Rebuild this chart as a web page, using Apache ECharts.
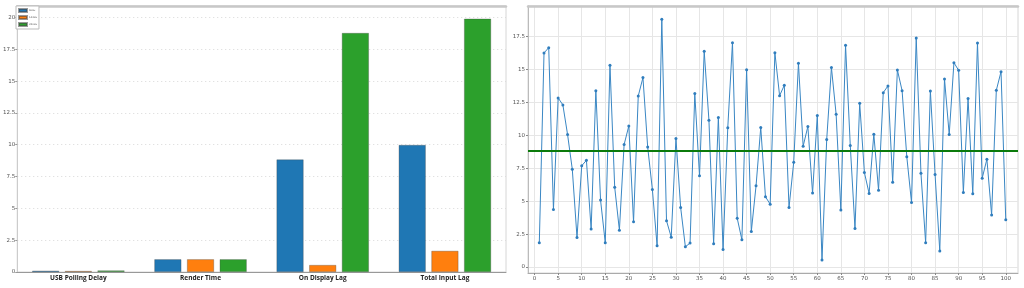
<!DOCTYPE html>
<html>
<head>
<meta charset="utf-8">
<script src="https://cdn.jsdelivr.net/npm/echarts@6/dist/echarts.min.js"></script>
<style>
  html, body { margin: 0; padding: 0; background: #fff; }
  #chart { width: 1024px; height: 288px; }
</style>
</head>
<body>
<div id="chart"></div>
<script>
// left panel: latency components per setup
const categories = ["USB Polling Delay", "Render Time", "On Display Lag", "Total Input Lag"];
const seriesNames = ["60Hz", "144Hz", "240Hz"];
const blueValues = [0.1, 1.0, 8.84, 9.98];
const orangeValues = [0.08, 1.0, 0.55, 1.66];
const greenValues = [0.12, 1.0, 18.78, 19.9];
const barColors = ["#1f77b4", "#ff7f0e", "#2ca02c"];
const leftTicks = [0, 2.5, 5, 7.5, 10, 12.5, 15, 17.5, 20];

// right panel: per-sample lag
const lagValues = [
  1.84, 16.24, 16.64, 4.37, 12.83, 12.3, 10.05, 7.42, 2.25, 7.68,
  8.1, 2.88, 13.38, 5.08, 1.84, 15.3, 6.06, 2.8, 9.29, 10.7,
  3.43, 12.98, 14.37, 9.1, 5.88, 1.62, 18.79, 3.51, 2.27, 9.75,
  4.52, 1.54, 1.82, 13.16, 6.92, 16.36, 11.14, 1.77, 11.34, 1.34,
  10.56, 17.02, 3.71, 2.07, 14.97, 2.7, 6.16, 10.58, 5.33, 4.77,
  16.26, 13.0, 13.79, 4.52, 7.95, 15.45, 9.17, 10.66, 5.61, 11.49,
  0.53, 9.67, 15.13, 11.59, 4.32, 16.82, 9.22, 2.93, 12.42, 7.17,
  5.58, 10.08, 5.83, 13.23, 13.74, 6.44, 14.95, 13.38, 8.36, 4.9,
  17.37, 7.12, 1.84, 13.36, 7.02, 1.21, 14.27, 10.05, 15.5, 14.92,
  5.66, 12.78, 5.56, 17.0, 6.74, 8.18, 3.94, 13.41, 14.82, 3.59
];
const rightXTicks = [0, 5, 10, 15, 20, 25, 30, 35, 40, 45, 50, 55, 60, 65, 70, 75, 80, 85, 90, 95, 100];
const rightYTicks = [0, 2.5, 5, 7.5, 10, 12.5, 15, 17.5];

const chart = echarts.init(document.getElementById("chart"));

const tickFont = { fontFamily: "DejaVu Sans", fontSize: 5.5, color: "#555" };
const barSeries = [blueValues, orangeValues, greenValues].map((vals, i) => ({
  name: seriesNames[i],
  type: "bar",
  xAxisIndex: 0,
  yAxisIndex: 0,
  data: vals,
  barWidth: 27,
  barGap: "21%",
  itemStyle: { color: barColors[i], borderColor: "rgba(70,70,70,0.55)", borderWidth: 0.6 },
}));

const option = {
  animation: false,
  backgroundColor: "#fff",
  legend: {
    data: seriesNames,
    orient: "vertical",
    left: 16,
    top: 6,
    icon: "rect",
    itemWidth: 8,
    itemHeight: 3,
    itemGap: 2,
    padding: [2, 2],
    borderColor: "#bbb",
    borderWidth: 1,
    backgroundColor: "#fff",
    textStyle: { fontSize: 2.5, lineHeight: 3, padding: [0, 0, 0, -3], color: "#555", fontFamily: "DejaVu Sans" },
  },
  grid: [
    { left: 16, top: 6, width: 490, height: 266, show: true, borderColor: "#d6d6d6", borderWidth: 1 },
    { left: 528, top: 6, width: 490, height: 267, show: true, borderColor: "#d6d6d6", borderWidth: 1 },
  ],
  xAxis: [
    {
      type: "category",
      gridIndex: 0,
      data: categories,
      axisLine: { onZero: false, lineStyle: { color: "#999", width: 1 } },
      axisTick: { show: false },
      axisLabel: { fontFamily: "Open Sans", fontWeight: "bold", fontSize: 6.5, color: "#222", margin: 3 },
      splitLine: { show: false },
    },
    {
      type: "value",
      gridIndex: 1,
      min: -1.4,
      max: 102.6,
      axisLine: { onZero: false, lineStyle: { color: "#aaa" } },
      axisTick: { customValues: rightXTicks, length: 2, lineStyle: { color: "#888" } },
      axisLabel: Object.assign({ customValues: rightXTicks, margin: 3 }, tickFont),
      splitLine: { show: true, lineStyle: { color: "#e6e6e6", width: 1 } },
    },
    {
      type: "value",
      gridIndex: 0,
      position: "top",
      min: 0,
      max: 1,
      axisLine: { onZero: false, lineStyle: { color: "#c8c8c8", width: 2.5 } },
      axisTick: { show: false },
      axisLabel: { show: false },
      splitLine: { show: false },
    },
    {
      type: "value",
      gridIndex: 1,
      position: "top",
      min: 0,
      max: 1,
      axisLine: { onZero: false, lineStyle: { color: "#c8c8c8", width: 2.5 } },
      axisTick: { show: false },
      axisLabel: { show: false },
      splitLine: { show: false },
    },
  ],
  yAxis: [
    {
      type: "value",
      gridIndex: 0,
      min: 0,
      max: 20.9,
      axisLine: { show: true, onZero: false, lineStyle: { color: "#ccc" } },
      axisTick: { show: true, customValues: leftTicks, length: 2, lineStyle: { color: "#999" } },
      axisLabel: Object.assign({ customValues: leftTicks, margin: 2 }, tickFont),
      splitLine: { show: true, lineStyle: { color: "#d8d8d8", type: [1, 3], width: 1 } },
    },
    {
      type: "value",
      gridIndex: 1,
      min: -0.45,
      max: 19.8,
      axisLine: { show: true, onZero: false, lineStyle: { color: "#bbb" } },
      axisTick: { show: true, customValues: rightYTicks, length: 2, lineStyle: { color: "#888" } },
      axisLabel: Object.assign({ customValues: rightYTicks, margin: 3 }, tickFont),
      splitLine: { show: true, lineStyle: { color: "#e6e6e6", width: 1 } },
    },
  ],
  series: barSeries.concat([
    {
      name: "lag",
      type: "line",
      xAxisIndex: 1,
      yAxisIndex: 1,
      data: lagValues.map((v, i) => [i + 1, v]),
      symbol: "circle",
      symbolSize: 3,
      lineStyle: { color: "#3a87c4", width: 1 },
      itemStyle: { color: "#2f7dbd" },
      markLine: {
        silent: true,
        symbol: "none",
        label: { show: false },
        lineStyle: { color: "#0b7a0b", width: 2, type: "solid" },
        data: [{ type: "average" }],
      },
    },
  ]),
};

chart.setOption(option);
</script>
</body>
</html>
